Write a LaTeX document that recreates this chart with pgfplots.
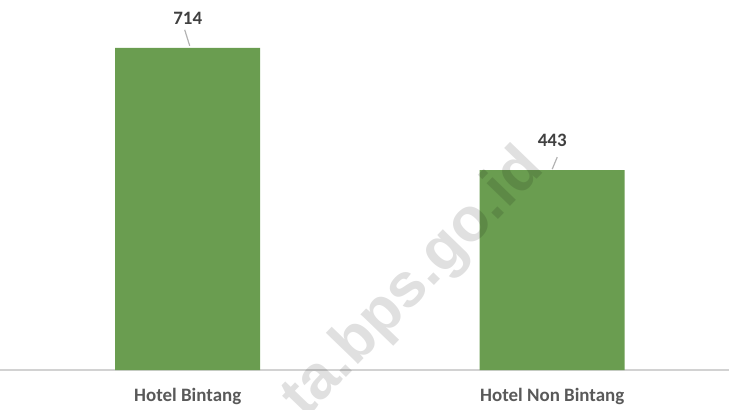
\documentclass[border=0pt]{standalone}
\usepackage{pgfplots}
\pgfplotsset{compat=1.18}
\usepackage{fontspec}
\setmainfont{Carlito}
\newfontfamily\wm{Liberation Sans}
\definecolor{bargreen}{HTML}{6A9D50}
\definecolor{lbl}{HTML}{404040}
\definecolor{tickc}{HTML}{595959}
\begin{document}
\begin{tikzpicture}[x=1bp,y=1bp]
\useasboundingbox (0,0) rectangle (729,409);
\begin{axis}[
  at={(0,39bp)}, anchor=south west, scale only axis,
  width=729bp, height=370bp,
  xmin=-0.515, xmax=1.485, ymin=0, ymax=820,
  /pgf/number format/assume math mode=true,
  axis y line=none, axis x line*=bottom,
  x axis line style={draw=gray!35, line width=1.2bp, -},
  xtick=data, xticklabels={Hotel Bintang, Hotel Non Bintang},
  major tick length=0pt,
  xticklabel style={font=\fontsize{19}{22}\selectfont\bfseries, text=tickc, anchor=north, yshift=-15bp},
  ybar, bar width=145bp,
  nodes near coords,
  every node near coord/.append style={font=\fontsize{19}{22}\selectfont\bfseries, text=lbl, anchor=south, yshift=20bp},
  clip=false,
]
\addplot[fill=bargreen, draw=none] coordinates {(0,714) (1,443)};
\draw[gray!60, line width=1.2bp] (axis cs:0,714) ++(2bp,2bp) -- ++(-5bp,16bp);
\draw[gray!60, line width=1.2bp] (axis cs:1,443) ++(0bp,1bp) -- ++(5bp,12bp);
\end{axis}
\begin{scope}
\clip (0,0) rectangle (729,409);
\node[rotate=46, text=black, opacity=0.12, font=\wm\bfseries\fontsize{62}{62}\selectfont] at (414,125) {ta.bps.go.id};
\end{scope}
\end{tikzpicture}
\end{document}
